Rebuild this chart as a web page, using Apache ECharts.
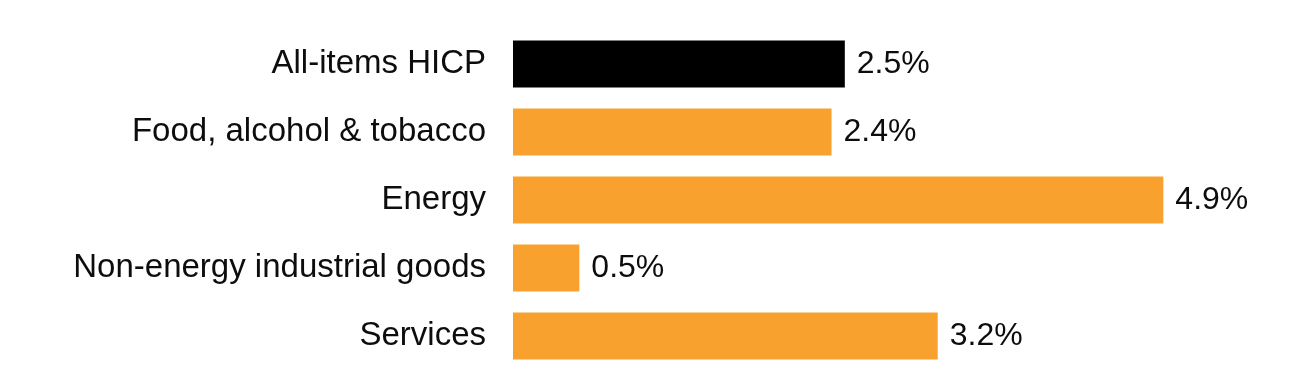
<!DOCTYPE html>
<html>
<head>
<meta charset="utf-8">
<script src="https://cdn.jsdelivr.net/npm/echarts@6/dist/echarts.min.js"></script>
<style>
html,body{margin:0;padding:0;background:#fff;}
#chart{width:1312px;height:376px;}
</style>
</head>
<body>
<div id="chart"></div>
<script>
const categories = ['All-items HICP', 'Food, alcohol & tobacco', 'Energy', 'Non-energy industrial goods', 'Services'];
const values = [2.5, 2.4, 4.9, 0.5, 3.2];
const barColors = ['#000000', '#F8A12F', '#F8A12F', '#F8A12F', '#F8A12F'];

const chart = echarts.init(document.getElementById('chart'));
chart.setOption({
  backgroundColor: '#ffffff',
  animation: false,
  grid: { left: 513, right: 69, top: 30, bottom: 6, containLabel: false },
  xAxis: {
    type: 'value', min: 0, max: 5.5, show: false
  },
  yAxis: {
    type: 'category', data: categories, inverse: true,
    axisLine: { show: false }, axisTick: { show: false },
    axisLabel: {
      margin: 27, color: '#0d0d0d', fontSize: 33,
      fontFamily: 'Liberation Sans, Arial, sans-serif',
      padding: [0, 0, 16, 0]
    }
  },
  series: [{
    type: 'bar',
    data: values.map((v, i) => ({ value: v, itemStyle: { color: barColors[i] } })),
    barWidth: 47,
    label: {
      show: true, position: 'right', distance: 12,
      formatter: p => p.value.toFixed(1) + '%',
      color: '#0d0d0d', fontSize: 32,
      fontFamily: 'Liberation Sans, Arial, sans-serif',
      padding: [0, 0, 4, 0]
    }
  }]
});
</script>
</body>
</html>
